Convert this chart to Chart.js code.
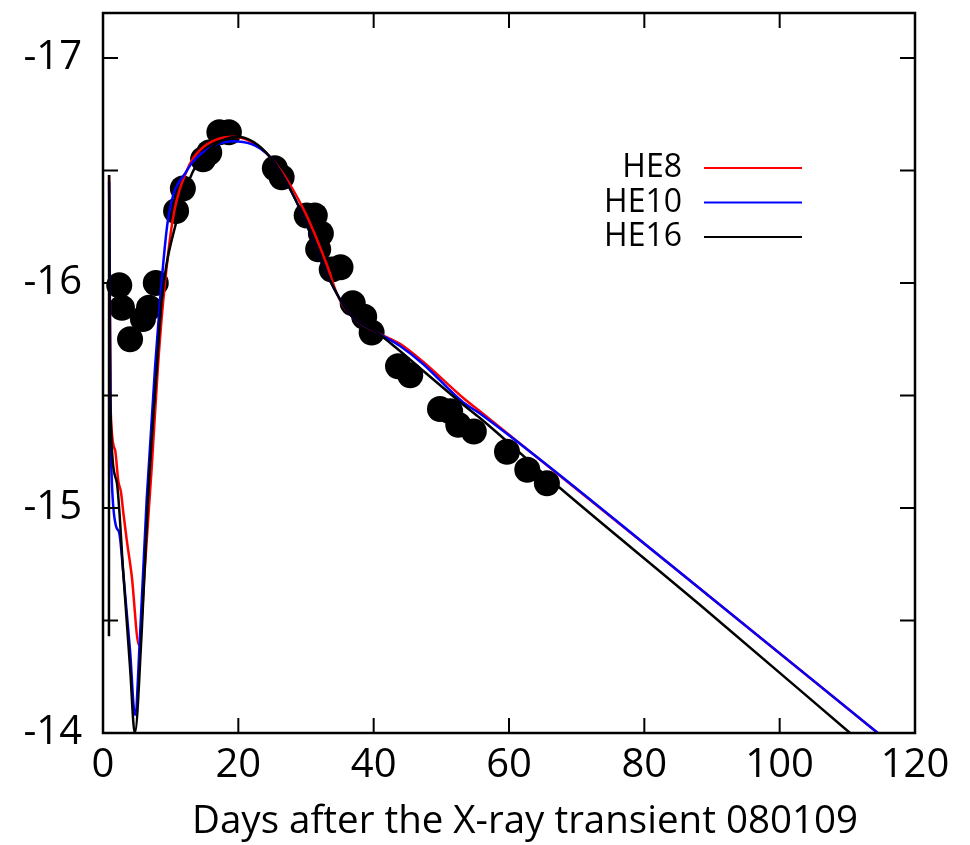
<!DOCTYPE html>
<html>
<head>
<meta charset="utf-8">
<script src="https://cdn.jsdelivr.net/npm/chart.js@4.4.1/dist/chart.umd.min.js"></script>
<style>
  html, body { margin: 0; padding: 0; background: #fff; }
  #wrap { width: 970px; height: 845px; }
</style>
</head>
<body>
<div id="wrap"><canvas id="lc" width="970" height="845"></canvas></div>
<script>
// observed light curve (days after 080109, absolute mag)
const obsDays = [2.4, 2.8, 4.0, 5.9, 6.8, 7.8, 10.8, 11.8, 14.8, 15.7, 17.2, 18.6,
  25.4, 26.4, 30.1, 31.3, 32.2, 31.8, 33.8, 35.1, 36.9, 38.6, 39.7,
  43.6, 45.4, 49.8, 51.3, 52.5, 54.8, 59.7, 62.7, 65.6];
const obsMag = [-15.99, -15.89, -15.75, -15.84, -15.89, -16.00, -16.32, -16.42, -16.55, -16.58, -16.67, -16.67,
  -16.51, -16.47, -16.30, -16.30, -16.22, -16.15, -16.06, -16.07, -15.91, -15.85, -15.78,
  -15.63, -15.59, -15.44, -15.43, -15.37, -15.34, -15.25, -15.17, -15.11];

// model curves
const he8Days = [0.9, 1.14, 1.77, 2.26, 2.66, 3.0, 3.5, 4.24, 5.32, 6.2, 7.2, 8.1, 8.9, 10.3, 12.4, 14.3,
  19.2, 24.7, 29.6, 33.1, 34.6, 36.5, 40.5, 43.9, 47.3, 53.2, 55.7, 85, 114.5];
const he8Mag = [-16.48, -15.43, -15.26, -15.12, -15.07, -14.98, -14.86, -14.70, -14.39, -14.74, -15.18, -15.62, -15.92, -16.28, -16.50, -16.59,
  -16.65, -16.56, -16.33, -16.08, -15.95, -15.86, -15.78, -15.73, -15.65, -15.49, -15.43, -14.72, -14.0];

const he10Days = [0.9, 1.14, 1.28, 1.92, 2.4, 3.0, 3.99, 4.73, 5.5, 6.46, 7.68, 8.42, 9.6, 12.4, 15.8,
  19.2, 24.7, 29.1, 32.5, 34.6, 36.5, 40.5, 43.9, 47.3, 53.2, 55.7, 85, 114.5];
const he10Mag = [-16.45, -15.33, -15.14, -14.92, -14.89, -14.71, -14.37, -14.08, -14.45, -15.04, -15.62, -15.92, -16.28, -16.50, -16.60,
  -16.63, -16.56, -16.33, -16.08, -15.95, -15.86, -15.78, -15.72, -15.64, -15.47, -15.42, -14.72, -14.0];

const he16Days = [0.88, 0.9, 1.03, 2.0, 3.0, 4.0, 4.7, 5.72, 6.65, 7.94, 8.67, 10.9, 13.2, 16.0,
  19.8, 24.7, 29.1, 32.5, 34.6, 36.5, 40.5, 43.4, 47.3, 53.2, 55.7, 67.5, 88.2, 110.4];
const he16Mag = [-14.43, -16.48, -15.51, -15.12, -14.71, -14.29, -14.0, -14.45, -15.04, -15.62, -15.92, -16.28, -16.49, -16.60,
  -16.65, -16.56, -16.33, -16.08, -15.95, -15.86, -15.78, -15.71, -15.61, -15.46, -15.40, -15.09, -14.57, -14.0];

const xTicks = [0, 20, 40, 60, 80, 100, 120];
const yTicks = [-17, -16.5, -16, -15.5, -15, -14.5, -14];
const xTitle = "Days after the X-ray transient 080109";
const FONT = "'Open Sans', 'DejaVu Sans', sans-serif";

function pts(days, mags) {
  return days.map((d, i) => ({ x: d, y: mags[i] }));
}

function curve(label, days, mags, color, order) {
  return {
    type: "line",
    label,
    data: pts(days, mags),
    borderColor: color,
    borderWidth: 2.5,
    pointRadius: 0,
    fill: false,
    cubicInterpolationMode: "monotone",
    order
  };
}

// gnuplot-like frame with inward ticks on all four sides
const framePlugin = {
  id: "frame",
  afterDatasetsDraw(chart) {
    const { ctx, chartArea: a, scales } = chart;
    const len = 15;
    ctx.save();
    ctx.strokeStyle = "#000";
    ctx.lineWidth = 2.5;
    ctx.strokeRect(a.left, a.top, a.right - a.left, a.bottom - a.top);
    ctx.lineWidth = 2;
    ctx.beginPath();
    scales.x.ticks.forEach((t) => {
      const px = scales.x.getPixelForValue(t.value);
      ctx.moveTo(px, a.bottom); ctx.lineTo(px, a.bottom - len);
      ctx.moveTo(px, a.top); ctx.lineTo(px, a.top + len);
    });
    scales.y.ticks.forEach((t) => {
      const py = scales.y.getPixelForValue(t.value);
      ctx.moveTo(a.left, py); ctx.lineTo(a.left + len, py);
      ctx.moveTo(a.right, py); ctx.lineTo(a.right - len, py);
    });
    ctx.stroke();

    // axis title, sits a bit right of the plot centre as in the original
    ctx.fillStyle = "#000";
    ctx.font = "38.5px " + FONT;
    ctx.textAlign = "center";
    ctx.textBaseline = "alphabetic";
    ctx.fillText(xTitle, (a.left + a.right) / 2 + 16, a.bottom + 100);
    ctx.restore();
  }
};

// legend: label on the left, sample line on the right
const keyPlugin = {
  id: "key",
  afterDraw(chart) {
    const { ctx, chartArea: a } = chart;
    const lineEnd = a.right - 113;
    const lineStart = lineEnd - 98;
    const textRight = lineStart - 22;
    let y = a.top + 155;
    ctx.save();
    ctx.font = "32px " + FONT;
    ctx.textAlign = "right";
    ctx.textBaseline = "middle";
    ["HE8", "HE10", "HE16"].forEach((name) => {
      const ds = chart.data.datasets.find((d) => d.label === name);
      ctx.fillStyle = "#000";
      ctx.fillText(ds.label, textRight, y);
      ctx.strokeStyle = ds.borderColor;
      ctx.lineWidth = 2;
      ctx.beginPath();
      ctx.moveTo(lineStart, y);
      ctx.lineTo(lineEnd, y);
      ctx.stroke();
      y += 34.5;
    });
    ctx.restore();
  }
};

new Chart(document.getElementById("lc"), {
  type: "scatter",
  data: {
    datasets: [
      curve("HE16", he16Days, he16Mag, "#000000", 0),
      curve("HE10", he10Days, he10Mag, "#0000ff", 1),
      curve("HE8", he8Days, he8Mag, "#ff0000", 2),
      {
        type: "scatter",
        label: "obs",
        data: pts(obsDays, obsMag),
        backgroundColor: "#000",
        borderWidth: 0,
        pointRadius: 13,
        order: 3
      }
    ]
  },
  options: {
    responsive: false,
    animation: false,
    layout: { padding: { top: 9, right: 55, left: 0, bottom: 0 } },
    plugins: { legend: { display: false }, tooltip: { enabled: false } },
    scales: {
      x: {
        type: "linear",
        min: 0,
        max: 120,
        afterBuildTicks: (s) => { s.ticks = xTicks.map((v) => ({ value: v })); },
        afterFit: (s) => { s.height = 112; s.paddingLeft = 0; s.paddingRight = 0; },
        grid: { display: false, drawTicks: false },
        border: { display: false },
        ticks: { color: "#000", font: { family: FONT, size: 40 }, padding: 9, maxRotation: 0 }
      },
      y: {
        type: "linear",
        reverse: true,
        min: -17.2,
        max: -14,
        afterBuildTicks: (s) => { s.ticks = yTicks.map((v) => ({ value: v })); },
        afterFit: (s) => { s.width = 103; s.paddingTop = 0; s.paddingBottom = 0; },
        grid: { display: false, drawTicks: false },
        border: { display: false },
        ticks: {
          color: "#000",
          font: { family: FONT, size: 40 },
          padding: 21,
          callback: (v) => (Number.isInteger(v) ? String(v) : "")
        }
      }
    }
  },
  plugins: [framePlugin, keyPlugin]
});
</script>
</body>
</html>
